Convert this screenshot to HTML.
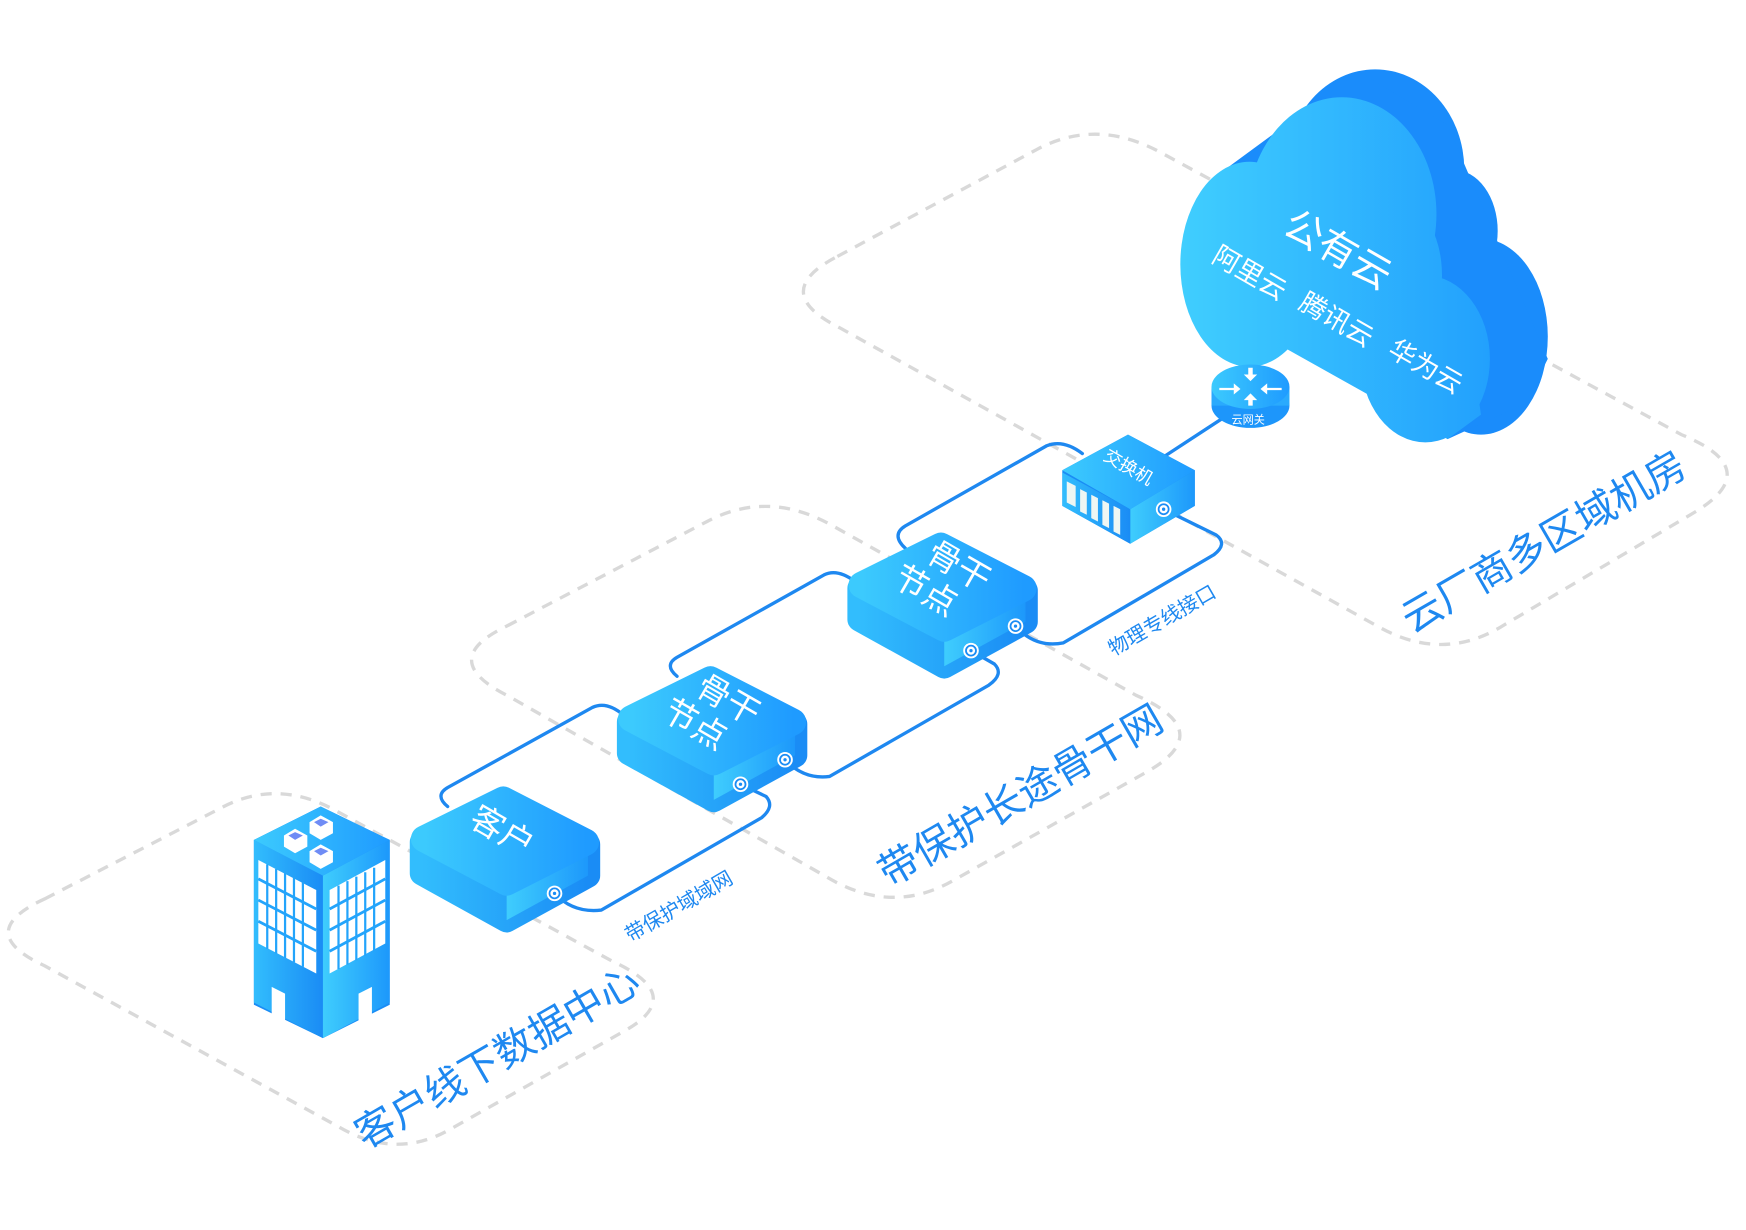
<!DOCTYPE html>
<html><head><meta charset="utf-8"><style>
html,body{margin:0;padding:0;background:#fff;}
svg{display:block;}
text{font-family:"Liberation Sans","Noto Sans CJK SC",sans-serif;}
</style></head><body>
<svg width="1746" height="1230" viewBox="0 0 1568 1100" xmlns="http://www.w3.org/2000/svg">
<defs>
<linearGradient id="gTop" x1="0" y1="0" x2="1" y2="0"><stop offset="0" stop-color="#3ccafd"/><stop offset="1" stop-color="#1f9bff"/></linearGradient>
<linearGradient id="gL" x1="0" y1="0" x2="1" y2="0"><stop offset="0" stop-color="#32bdfd"/><stop offset="1" stop-color="#1a8cf5"/></linearGradient>
<linearGradient id="gR" x1="0" y1="0" x2="1" y2="0"><stop offset="0" stop-color="#3fcdfd"/><stop offset="1" stop-color="#1d98fb"/></linearGradient>
<linearGradient id="gCloud" gradientUnits="userSpaceOnUse" x1="1060" y1="0" x2="1340" y2="0"><stop offset="0" stop-color="#40cefe"/><stop offset="1" stop-color="#22a0fd"/></linearGradient>
<g id="box">
  <polygon points="12,48 85,10 161,50 161,78 88,118 12,76" fill="url(#gL)" stroke="url(#gL)" stroke-width="22" stroke-linejoin="round"/>
  <polygon points="88,95 161,50 161,78 88,118" fill="url(#gR)"/>
  <polygon points="14,45 85,10 159,48 88,84" fill="url(#gTop)" stroke="url(#gTop)" stroke-width="24" stroke-linejoin="round"/>
</g>
<g id="port"><circle r="7" fill="#fff"/><circle r="4.5" fill="none" stroke="#1a8cf5" stroke-width="1.6"/><circle r="1.5" fill="#1a8cf5"/></g>
</defs>

<!-- dashed regions -->
<g fill="none" stroke="#d9d9d9" stroke-width="3" stroke-dasharray="10 8">
<path d="M40,805 L201,722 Q250,697 302,726 L550,861 Q618,892 560,924 L404,1012 Q355,1040 303,1009 L40,865 Q-25,835 40,805Z"/>
<path d="M455,560 L635,466 Q690,437 748,470 L1020,622 Q1095,655 1028,692 L855,789 Q800,820 742,785 L455,622 Q392,590 455,560Z"/>
<path d="M752,228 L931,132 Q985,103 1043,135 L1510,388 Q1588,420 1518,460 L1349,560 Q1295,593 1237,560 L754,292 Q690,260 752,228Z"/>
</g>

<!-- links -->
<g fill="none" stroke="#1e88f0" stroke-width="3" stroke-linejoin="round" stroke-linecap="round">
<path d="M402,722 Q390,712 402,705 L532,633 Q545,627 560,640"/>
<path d="M498,800 Q515,818 540,815 L684,732 Q696,722 688,713 L665,702"/>
<path d="M608,605 Q596,595 608,588 L740,514 Q752,508 768,520"/>
<path d="M705,680 Q722,698 745,695 L888,613 Q902,603 893,594 L872,582"/>
<path d="M813,490 Q800,478 813,470 L940,398 Q955,392 972,405"/>
<path d="M912,560 Q930,580 955,575 L1090,496 Q1103,486 1092,478 L1045,455"/>
<path d="M1045,408 L1100,372"/>
</g>

<!-- cloud back -->
<g fill="#1a8cfb">
<ellipse cx="1235" cy="150" rx="80" ry="90"/>
<ellipse cx="1305" cy="205" rx="40" ry="55"/>
<ellipse cx="1330" cy="300" rx="60" ry="88"/>
<polygon points="1100,150 1220,62 1300,110 1390,320 1370,360 1300,392"/>
</g>
<g fill="url(#gCloud)">
<ellipse cx="1205" cy="190" rx="85" ry="105"/>
<ellipse cx="1122" cy="235" rx="62" ry="92"/>
<ellipse cx="1250" cy="245" rx="45" ry="70"/>
<polygon points="1062,235 1110,170 1260,210 1320,300 1330,370 1300,392 1100,280"/>
<ellipse cx="1280" cy="320" rx="58" ry="75"/>
</g>
<g fill="#fff" font-size="35" transform="translate(1150,206) rotate(30)"><text>公有云</text></g>
<g fill="#fff" font-size="24">
<text transform="translate(1087,232) rotate(30)">阿里云</text>
<text transform="translate(1165,274) rotate(30)">腾讯云</text>
<text transform="translate(1245,316) rotate(30)">华为云</text>
</g>

<!-- gateway -->
<ellipse cx="1123" cy="362" rx="35" ry="20" fill="#1d96fb"/>
<rect x="1088" y="345" width="70" height="17" fill="#2aaafd"/>
<ellipse cx="1123" cy="345" rx="35" ry="20" fill="url(#gTop)"/>
<g fill="#fff">
<polygon points="1095,346 1108,346 1108,342 1114,347 1108,352 1108,348 1095,348"/>
<polygon points="1151,346 1138,346 1138,342 1132,347 1138,352 1138,348 1151,348"/>
<polygon points="1121,328 1125,328 1125,334 1129,334 1123,340 1117,334 1121,334"/>
<polygon points="1121,362 1125,362 1125,357 1129,357 1123,351 1117,357 1121,357"/>
<text x="1106" y="378" font-size="10">云网关</text>
</g>

<!-- switch -->
<polygon points="954,420 1013,388 1073,420 1073,452 1015,486 954,452" fill="#1a8cf5"/>
<polygon points="1015,455 1073,420 1073,452 1015,486" fill="url(#gR)"/>
<polygon points="954,422 1015,455 1015,486 954,452" fill="url(#gL)"/>
<polygon points="954,420 1013,388 1073,420 1015,455" fill="url(#gTop)"/>
<g fill="#eef6f3">
<polygon points="958,430 966,434 966,453 958,449"/>
<polygon points="970,437 976,440 976,460 970,457"/>
<polygon points="980,442 986,445 986,466 980,463"/>
<polygon points="990,447 996,450 996,472 990,469"/>
<polygon points="1000,452 1006,455 1006,478 1000,475"/>
</g>
<text transform="translate(990,410) rotate(30)" fill="#fff" font-size="16">交换机</text>
<use href="#port" x="1045" y="455"/>

<!-- backbone 2 -->
<use href="#box" x="760" y="478"/>
<g fill="#fff" font-size="30">
<text transform="translate(830,500) rotate(30)">骨干</text>
<text transform="translate(800,522) rotate(30)">节点</text>
</g>
<use href="#port" x="912" y="560"/>
<use href="#port" x="872" y="582"/>

<!-- backbone 1 -->
<use href="#box" x="553" y="598"/>
<g fill="#fff" font-size="30">
<text transform="translate(623,620) rotate(30)">骨干</text>
<text transform="translate(593,642) rotate(30)">节点</text>
</g>
<use href="#port" x="705" y="680"/>
<use href="#port" x="665" y="702"/>

<!-- client box -->
<use href="#box" x="367" y="706"/>
<text transform="translate(420,738) rotate(30)" fill="#fff" font-size="30">客户</text>
<use href="#port" x="498" y="800"/>

<!-- building -->
<polygon points="228,752 288,722 350,752 350,900 290,930 228,900" fill="#1a8cf5"/>
<polygon points="228,752 290,784 290,930 228,898" fill="url(#gL)"/>
<polygon points="290,784 350,752 350,898 290,930" fill="url(#gR)"/>
<polygon points="228,752 288,722 350,752 290,784" fill="url(#gTop)"/>
<g fill="#fff">
<polygon points="232,770 284,797 284,872 232,845"/>
<polygon points="296,797 346,770 346,845 296,872"/>
<polygon points="244,884 256,890 256,915 244,909"/>
<polygon points="322,890 334,884 334,909 322,915"/>
</g>
<g stroke="#23a4fb" stroke-width="2.5">
<line x1="232" y1="787" x2="284" y2="814"/><line x1="232" y1="806" x2="284" y2="833"/><line x1="232" y1="825" x2="284" y2="852"/>
<line x1="296" y1="814" x2="346" y2="787"/><line x1="296" y1="833" x2="346" y2="806"/><line x1="296" y1="852" x2="346" y2="825"/>
</g>
<g stroke="#23a4fb" stroke-width="2">
<line x1="240" y1="774" x2="240" y2="850"/><line x1="248" y1="778" x2="248" y2="854"/><line x1="256" y1="782" x2="256" y2="858"/><line x1="264" y1="786" x2="264" y2="862"/><line x1="272" y1="790" x2="272" y2="866"/>
<line x1="304" y1="793" x2="304" y2="868"/><line x1="312" y1="789" x2="312" y2="864"/><line x1="320" y1="785" x2="320" y2="860"/><line x1="328" y1="781" x2="328" y2="856"/><line x1="336" y1="777" x2="336" y2="852"/>
</g>
<g fill="#fff"><polygon points="255,748 265,742 276,748 276,758 265,764 255,758"/><polygon points="278,736 288,730 299,736 299,746 288,752 278,746"/><polygon points="278,762 288,756 299,762 299,772 288,778 278,772"/></g>
<g fill="#6f8cf5"><polygon points="259,748 265,745 272,748 265,752"/><polygon points="282,736 288,733 295,736 288,740"/><polygon points="282,762 288,759 295,762 288,766"/></g>

<!-- labels -->
<g fill="#1e88f0">
<text transform="translate(328,1030) rotate(-30)" font-size="36">客户线下数据中心</text>
<text transform="translate(798,795) rotate(-30)" font-size="36">带保护长途骨干网</text>
<text transform="translate(1268,567) rotate(-30)" font-size="36">云厂商多区域机房</text>
<text transform="translate(566,844) rotate(-30)" font-size="18">带保护域域网</text>
<text transform="translate(1000,587) rotate(-30)" font-size="18">物理专线接口</text>
</g>
</svg>
</body></html>
